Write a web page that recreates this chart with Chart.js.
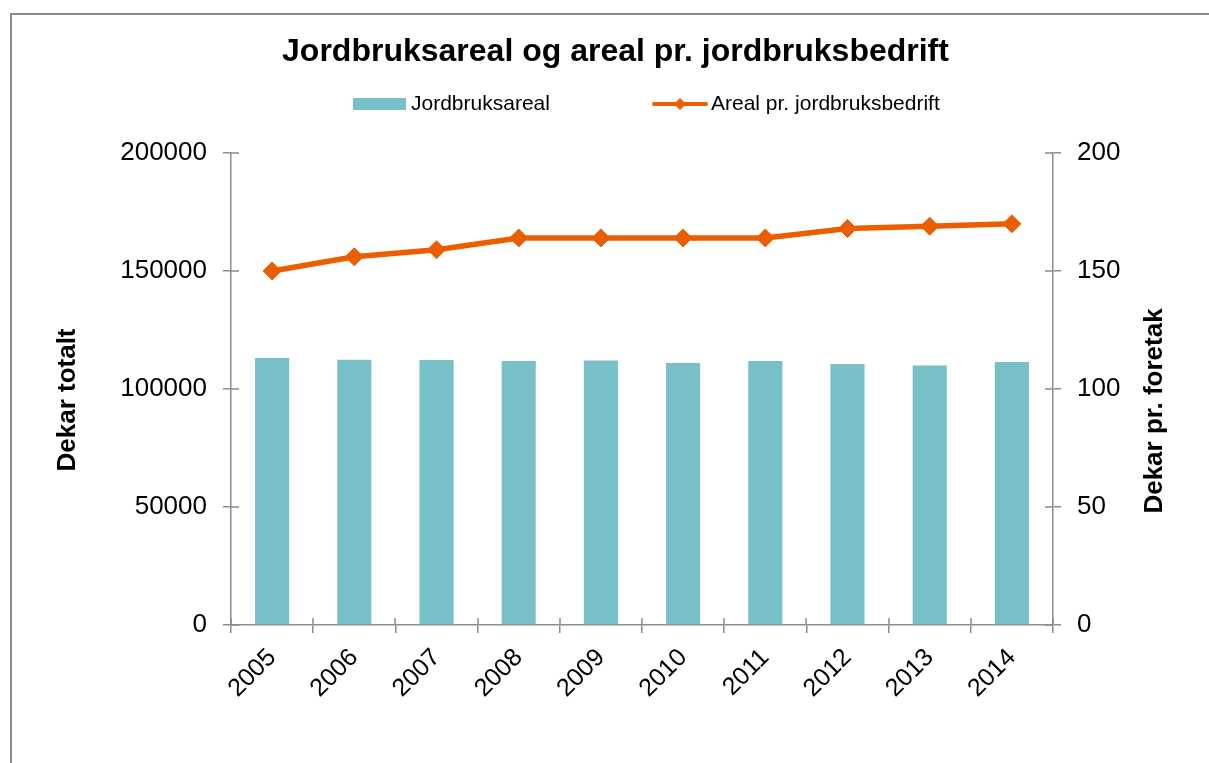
<!DOCTYPE html>
<html>
<head>
<meta charset="utf-8">
<title>Jordbruksareal og areal pr. jordbruksbedrift</title>
<script src="https://cdn.jsdelivr.net/npm/chart.js@4/dist/chart.umd.min.js"></script>
<style>
  body { margin: 0; background: #fff; }
  #wrap { position: relative; width: 1209px; height: 763px; overflow: hidden; }
  #frame { position: absolute; left: 10px; top: 13px; right: -5px; bottom: -5px;
           border-left: 2px solid #8c8c8c; border-top: 2px solid #8c8c8c; }
  canvas { position: absolute; left: 0; top: 0; }
</style>
</head>
<body>
<div id="wrap">
  <div id="frame"></div>
  <canvas id="myChart" width="1209" height="763"></canvas>
</div>
<script>
// data
const years = ['2005', '2006', '2007', '2008', '2009', '2010', '2011', '2012', '2013', '2014'];
const jordbruksareal = [113100, 112400, 112300, 111900, 112100, 111000, 111900, 110600, 110000, 111400];
const arealPrBedrift = [150, 156, 159, 164, 164, 164, 164, 168, 169, 170];
const leftTicks = [0, 50000, 100000, 150000, 200000];
const rightTicks = [0, 50, 100, 150, 200];

const barColor = '#78c0c8';
const lineColor = '#eb5e00';
const axisColor = '#8c8c8c';
const font = 'Liberation Sans, Arial, sans-serif';

document.addEventListener("DOMContentLoaded", start);

function start(){
    const ctx = document.getElementById('myChart').getContext('2d');

    // inward half of the tick marks (Excel draws them crossing the axis)
    const crossTicks = {
        id: 'crossTicks',
        afterDatasetsDraw(chart){
            const c = chart.ctx;
            const x = chart.scales.x, y = chart.scales.y, y1 = chart.scales.y1;
            c.save();
            c.strokeStyle = axisColor;
            c.lineWidth = 1.5;
            c.beginPath();
            for (let i = 0; i <= years.length; i++){
                const px = Math.round(x.getPixelForValue(i - 0.5));
                c.moveTo(px, x.top);
                c.lineTo(px, x.top - 7);
            }
            leftTicks.forEach(v => {
                const py = Math.round(y.getPixelForValue(v));
                c.moveTo(y.right, py);
                c.lineTo(y.right + 8, py);
            });
            rightTicks.forEach(v => {
                const py = Math.round(y1.getPixelForValue(v));
                c.moveTo(y1.left, py);
                c.lineTo(y1.left - 8, py);
            });
            c.stroke();
            c.restore();
        }
    };

    // legend and axis titles as in the original
    const decorations = {
        id: 'decorations',
        afterDraw(chart){
            const c = chart.ctx;
            c.save();
            c.fillStyle = '#000';
            c.textBaseline = 'middle';
            c.font = '21px ' + font;
            // legend item 1
            c.fillStyle = barColor;
            c.fillRect(353, 98, 53, 12);
            c.fillStyle = '#000';
            c.fillText('Jordbruksareal', 411, 104);
            // legend item 2
            c.strokeStyle = lineColor;
            c.lineWidth = 4;
            c.lineCap = 'round';
            c.beginPath();
            c.moveTo(654, 104);
            c.lineTo(706, 104);
            c.stroke();
            c.fillStyle = lineColor;
            c.beginPath();
            c.moveTo(680, 98); c.lineTo(686, 104); c.lineTo(680, 110); c.lineTo(674, 104);
            c.closePath();
            c.fill();
            c.fillStyle = '#000';
            c.fillText('Areal pr. jordbruksbedrift', 711, 104);
            // axis titles
            c.font = 'bold 26px ' + font;
            c.textAlign = 'center';
            c.translate(68, 400);
            c.rotate(-Math.PI / 2);
            c.fillText('Dekar totalt', 0, 0);
            c.rotate(Math.PI / 2);
            c.translate(1155 - 68, 411 - 400);
            c.rotate(-Math.PI / 2);
            c.fillText('Dekar pr. foretak', 0, 0);
            c.restore();
        }
    };

    const myChart = new Chart(ctx, {
        type: 'bar',
        data: {
            labels: years,
            datasets: [{
                type: 'line',
                label: 'Areal pr. jordbruksbedrift',
                data: arealPrBedrift,
                yAxisID: 'y1',
                borderColor: lineColor,
                backgroundColor: lineColor,
                borderWidth: 5.5,
                pointStyle: 'rectRot',
                pointRadius: 9,
                pointBorderWidth: 1,
                tension: 0,
                order: 0
            }, {
                label: 'Jordbruksareal',
                data: jordbruksareal,
                yAxisID: 'y',
                backgroundColor: barColor,
                borderWidth: 0,
                categoryPercentage: 0.415,
                barPercentage: 1,
                order: 1
            }]
        },
        options: {
            responsive: false,
            animation: false,
            layout: { padding: { left: 22, right: 0, top: 0, bottom: 0 } },
            plugins: {
                legend: { display: false },
                tooltip: { enabled: false },
                title: {
                    display: true,
                    text: 'Jordbruksareal og areal pr. jordbruksbedrift',
                    color: '#000',
                    font: { family: font, size: 32, weight: 'bold', lineHeight: 1.2 },
                    padding: { top: 33, bottom: 81.6 }
                }
            },
            scales: {
                x: {
                    offset: true,
                    grid: { offset: true, drawOnChartArea: false, tickLength: 8, color: axisColor, lineWidth: 1.5 },
                    border: { color: axisColor, width: 1.5 },
                    ticks: { color: '#000', font: { family: font, size: 25 }, minRotation: 45, maxRotation: 45, padding: 10 },
                    afterFit(scale){ scale.height = 138; }
                },
                y: {
                    position: 'left',
                    min: 0,
                    max: 200000,
                    afterBuildTicks(scale){ scale.ticks = leftTicks.map(v => ({ value: v })); },
                    grid: { drawOnChartArea: false, tickLength: 8, color: axisColor, lineWidth: 1.5 },
                    border: { color: axisColor, width: 1.5 },
                    ticks: { color: '#000', font: { family: font, size: 26 }, padding: 16,
                             callback: v => String(v) },
                    afterFit(scale){ scale.width = 209; }
                },
                y1: {
                    position: 'right',
                    min: 0,
                    max: 200,
                    afterBuildTicks(scale){ scale.ticks = rightTicks.map(v => ({ value: v })); },
                    grid: { drawOnChartArea: false, tickLength: 8, color: axisColor, lineWidth: 1.5 },
                    border: { color: axisColor, width: 1.5 },
                    ticks: { color: '#000', font: { family: font, size: 26 }, padding: 16,
                             callback: v => String(v) },
                    afterFit(scale){ scale.width = 156; }
                }
            }
        },
        plugins: [crossTicks, decorations]
    });
}
</script>
</body>
</html>
